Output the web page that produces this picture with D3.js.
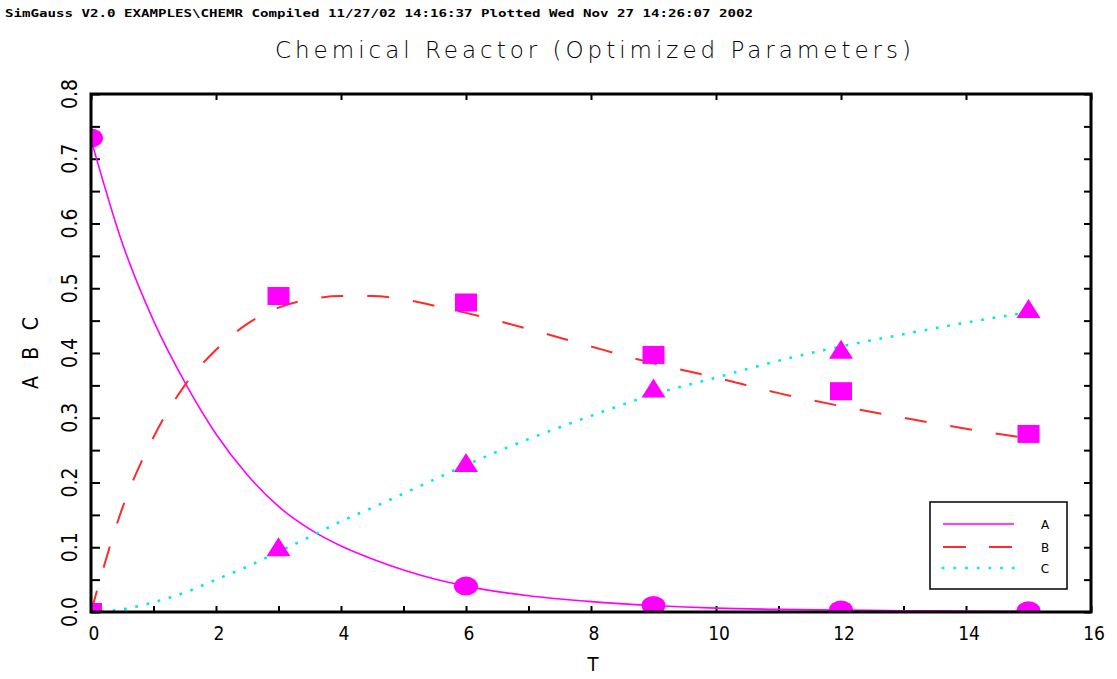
<!DOCTYPE html>
<html><head><meta charset="utf-8">
<script src="https://cdn.jsdelivr.net/npm/d3@7"></script>
<style>body{margin:0;background:#fff}svg{display:block}</style>
</head><body>
<script>
// ---- data ----
const headerText = "SimGauss V2.0 EXAMPLES\\CHEMR Compiled 11/27/02 14:16:37 Plotted Wed Nov 27 14:26:07 2002";
const titleText = "Chemical Reactor (Optimized Parameters)";
const seriesNames = ["A", "B", "C"];
// measured points (markers)
const obsT = [0, 3, 6, 9, 12, 15];
const obsA = [0.732, null, 0.040, 0.010, 0.003, 0.002];
const obsB = [0.0, 0.488, 0.478, 0.397, 0.341, 0.275];
const obsC = [0.0, 0.100, 0.230, 0.345, 0.405, 0.468];
// model curves
const curveT = [0, 0.5, 1, 1.5, 2, 2.5, 3, 3.5, 4, 4.5, 5, 5.5, 6, 7, 8, 9, 10, 11, 12, 13, 14, 15];
const curveA = [0.730, 0.570, 0.450, 0.355, 0.275, 0.212, 0.163, 0.128, 0.102, 0.082, 0.065, 0.051, 0.040, 0.025, 0.016, 0.010, 0.006, 0.004, 0.003, 0.002, 0.0015, 0.001];
const curveB = [0.0, 0.160, 0.270, 0.350, 0.405, 0.445, 0.470, 0.483, 0.488, 0.488, 0.483, 0.473, 0.462, 0.437, 0.410, 0.384, 0.362, 0.338, 0.318, 0.300, 0.283, 0.268];
const curveC = [0.0, 0.004, 0.015, 0.030, 0.050, 0.070, 0.093, 0.116, 0.140, 0.161, 0.183, 0.205, 0.227, 0.267, 0.303, 0.336, 0.362, 0.388, 0.410, 0.429, 0.447, 0.463];
const xMajorTicks = [0, 2, 4, 6, 8, 10, 12, 14, 16];
const yMajorTicks = [0.0, 0.1, 0.2, 0.3, 0.4, 0.5, 0.6, 0.7, 0.8];

// ---- layout ----
const W = 1117, H = 679;
const L = 91, R = 1091, T = 94, B = 612;
const svg = d3.select("body").append("svg").attr("width", W).attr("height", H);
const x = d3.scaleLinear().domain([0, 16]).range([L, R]);
const y = d3.scaleLinear().domain([0, 0.8]).range([B, T]);

const colors = {A: "#ff00ff", B: "#ff2a2a", C: "#00e8f0"};
const markerColor = "#ff00ff";

svg.append("defs").append("clipPath").attr("id", "plotclip")
  .append("rect").attr("x", L).attr("y", T).attr("width", R - L).attr("height", B - T);

// header
svg.append("text").attr("x", 5).attr("y", 17).attr("textLength", 748).attr("lengthAdjust", "spacingAndGlyphs")
  .style("font-family", "DejaVu Sans Mono, monospace").style("font-size", "11px").style("font-weight", "bold")
  .text(headerText);

// title
svg.append("text").attr("x", 275).attr("y", 58).attr("textLength", 636).attr("lengthAdjust", "spacing")
  .style("font-family", "DejaVu Sans, sans-serif").style("font-size", "23px").style("font-weight", "300")
  .text(titleText);

// axes ticks
const gAx = svg.append("g");
const minorY = d3.range(0, 0.8001, 0.05);
const minorX = d3.range(0, 16.001, 1);
gAx.append("g").call(d3.axisLeft(y).tickValues(minorY).tickSize(-9).tickFormat(""))
  .attr("transform", `translate(${L},0)`).call(g => g.select(".domain").remove())
  .selectAll("line").attr("stroke", "#000").attr("stroke-width", 2);
gAx.append("g").call(d3.axisRight(y).tickValues(minorY).tickSize(-7).tickFormat(""))
  .attr("transform", `translate(${R},0)`).call(g => g.select(".domain").remove())
  .selectAll("line").attr("stroke", "#000").attr("stroke-width", 2);
gAx.append("g").call(d3.axisBottom(x).tickValues(minorX).tickSize(-6).tickFormat(""))
  .attr("transform", `translate(0,${B})`).call(g => g.select(".domain").remove())
  .selectAll("line").attr("stroke", "#000").attr("stroke-width", 2);
gAx.append("g").call(d3.axisTop(x).tickValues(xMajorTicks).tickSize(-6).tickFormat(""))
  .attr("transform", `translate(0,${T})`).call(g => g.select(".domain").remove())
  .selectAll("line").attr("stroke", "#000").attr("stroke-width", 2);

// tick labels
const lblFont = "DejaVu Sans Condensed, DejaVu Sans, sans-serif";
svg.append("g").selectAll("text").data(xMajorTicks).join("text")
  .attr("x", d => x(d) + 3).attr("y", 640).attr("text-anchor", "middle")
  .style("font-family", lblFont).style("font-size", "19px").style("font-weight", "300")
  .text(d => d);
svg.append("g").selectAll("text").data(yMajorTicks).join("text")
  .attr("transform", d => `translate(77,${y(d)}) rotate(-90)`).attr("text-anchor", "middle")
  .style("font-family", lblFont).style("font-size", "21px").style("font-weight", "300")
  .text(d => d.toFixed(1));

// axis titles
svg.append("text").attr("x", 593).attr("y", 671).attr("text-anchor", "middle")
  .style("font-family", lblFont).style("font-size", "20px").style("font-weight", "300").text("T");
svg.append("text").attr("transform", `translate(38,${(T + B) / 2 + 36}) rotate(-90)`)
  .attr("textLength", 72).attr("lengthAdjust", "spacing")
  .style("font-family", lblFont).style("font-size", "21px").style("font-weight", "300")
  .attr("xml:space", "preserve").text(seriesNames.join(" "));

// curves
const plot = svg.append("g").attr("clip-path", "url(#plotclip)");
const line = d3.line().x(d => x(d[0])).y(d => y(d[1])).curve(d3.curveMonotoneX);
const styles = {
  A: {dash: null, w: 1.6, cap: "butt"},
  B: {dash: "22,24", w: 2, cap: "butt"},
  C: {dash: "0.1,11.4", w: 2.6, cap: "square"}
};
const curves = {A: curveA, B: curveB, C: curveC};
seriesNames.forEach(s => {
  const st = styles[s];
  plot.append("path").datum(curveT.map((t, i) => [t, curves[s][i]]))
    .attr("d", line).attr("fill", "none").attr("stroke", colors[s])
    .attr("stroke-width", st.w).attr("stroke-dasharray", st.dash).attr("stroke-linecap", st.cap);
});

// markers
const mk = svg.append("g").attr("clip-path", "url(#plotclip)").attr("fill", markerColor);
const ptsA = obsT.map((t, i) => [t, obsA[i]]).filter(d => d[1] != null);
const ptsB = obsT.map((t, i) => [t, obsB[i]]);
const ptsC = obsT.map((t, i) => [t, obsC[i]]);
mk.selectAll("ellipse").data(ptsA).join("ellipse")
  .attr("cx", d => x(d[0])).attr("cy", d => y(d[1])).attr("rx", 12).attr("ry", 9.5);
mk.selectAll("rect").data(ptsB).join("rect")
  .attr("x", d => x(d[0]) - 11).attr("y", d => y(d[1]) - 9).attr("width", 22).attr("height", 18);
mk.selectAll("path").data(ptsC).join("path")
  .attr("d", d => { const cx = x(d[0]), cy = y(d[1]);
    return `M${cx},${cy - 10}L${cx + 12},${cy + 9}L${cx - 12},${cy + 9}Z`; });

// frame
svg.append("rect").attr("x", L).attr("y", T).attr("width", R - L).attr("height", B - T)
  .attr("fill", "none").attr("stroke", "#000").attr("stroke-width", 3);

// legend
const lg = svg.append("g");
lg.append("rect").attr("x", 930).attr("y", 502).attr("width", 137).attr("height", 87)
  .attr("fill", "#fff").attr("stroke", "#000").attr("stroke-width", 1.5);
const legY = {A: 524, B: 547, C: 568};
seriesNames.forEach(s => {
  const st = styles[s];
  lg.append("line").attr("x1", 943).attr("x2", 1014).attr("y1", legY[s]).attr("y2", legY[s])
    .attr("stroke", colors[s]).attr("stroke-width", st.w).attr("stroke-dasharray", s === "B" ? "23,23" : (s === "C" ? "0.1,11.6" : null))
    .attr("stroke-linecap", st.cap);
  lg.append("text").attr("x", 1045).attr("y", legY[s] + 5).attr("text-anchor", "middle")
    .style("font-family", "DejaVu Sans, sans-serif").style("font-size", "12px").text(s);
});
</script>
</body></html>
